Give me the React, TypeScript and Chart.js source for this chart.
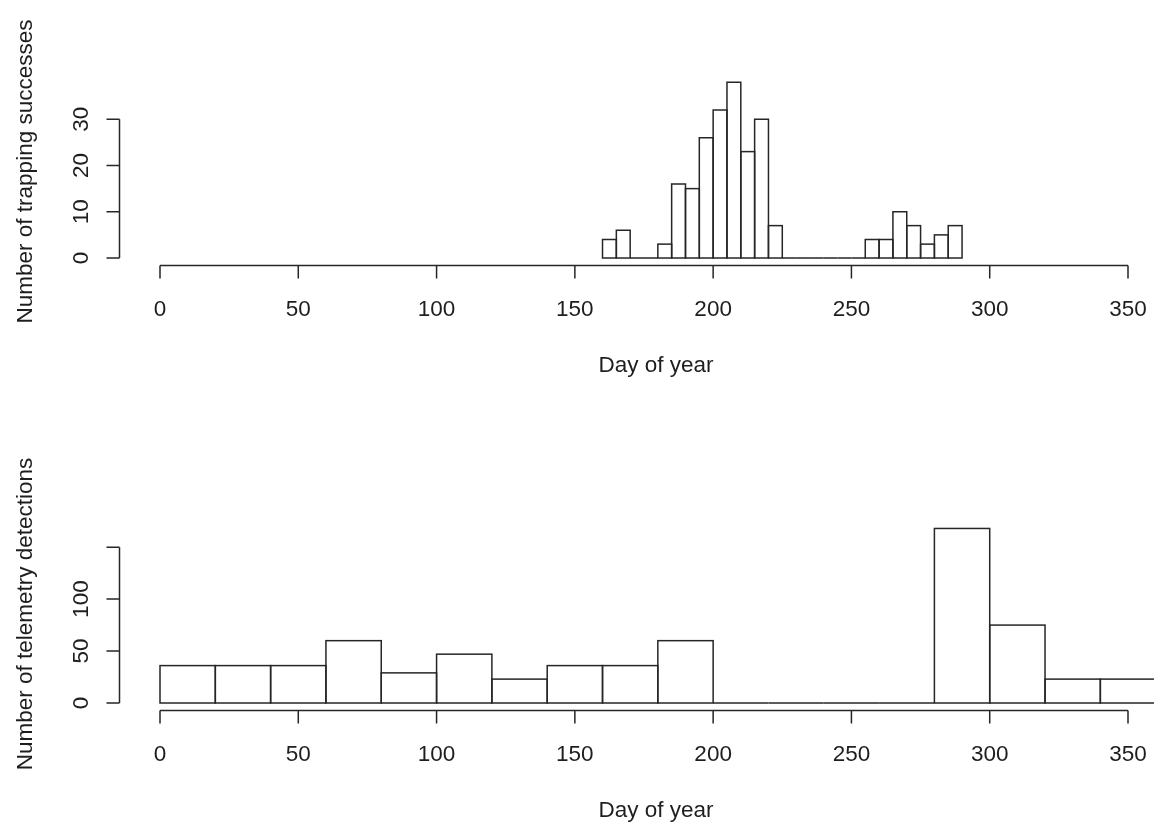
import React, { useEffect, useRef } from "react";
import { Chart, registerables } from "chart.js";

Chart.register(...registerables);

// ---- Data ----
const trapBinStarts = [160, 165, 170, 175, 180, 185, 190, 195, 200, 205, 210, 215, 220, 225, 230, 235, 240, 245, 250, 255, 260, 265, 270, 275, 280, 285];
const trapCounts = [4, 6, 0, 0, 3, 16, 15, 26, 32, 38, 23, 30, 7, 0, 0, 0, 0, 0, 0, 4, 4, 10, 7, 3, 5, 7];
const trapBinWidth = 5;
const trapYTicks = [0, 10, 20, 30];
const trapYLabels = ["0", "10", "20", "30"];

const teleBinStarts = [0, 20, 40, 60, 80, 100, 120, 140, 160, 180, 200, 220, 240, 260, 280, 300, 320, 340];
const teleCounts = [36, 36, 36, 60, 29, 47, 23, 36, 36, 60, 0, 0, 0, 0, 168, 75, 23, 23];
const teleBinWidth = 20;
const teleYTicks = [0, 50, 100, 150];
const teleYLabels = ["0", "50", "100", ""];

const xTicks = [0, 50, 100, 150, 200, 250, 300, 350];
const xLabels = ["0", "50", "100", "150", "200", "250", "300", "350"];

const xTitle = "Day of year";
const trapYTitle = "Number of trapping successes";
const teleYTitle = "Number of telemetry detections";

// ---- Style ----
const LINE = "#262626";
const TEXT = "#1e1e1e";
const FONT = "22.5px 'Liberation Sans', Arial, sans-serif";

type PanelCfg = {
  yTicks: number[];
  yLabels: string[];
  yTitle: string;
  yTitleCenter: number;
};

const rStylePlugin = {
  id: "rStyle",
  afterDatasetsDraw(chart: any, _args: any, opts: PanelCfg) {
    const ctx = chart.ctx as CanvasRenderingContext2D;
    const xs = chart.scales.x;
    const ys = chart.scales.y;
    ctx.save();
    ctx.strokeStyle = LINE;
    ctx.lineWidth = 1.5;

    // histogram outlines
    const meta = chart.getDatasetMeta(0);
    meta.data.forEach((el: any) => {
      const p = el.getProps(["x", "y", "base", "width"], true);
      ctx.strokeRect(p.x - p.width / 2, p.y, p.width, p.base - p.y);
    });

    const tickLen = 13;
    // x axis
    const axY = ys.getPixelForValue(0) + 7.5;
    const x0 = xs.getPixelForValue(xTicks[0]);
    const x1 = xs.getPixelForValue(xTicks[xTicks.length - 1]);
    ctx.beginPath();
    ctx.moveTo(x0, axY);
    ctx.lineTo(x1, axY);
    xTicks.forEach((t) => {
      const px = xs.getPixelForValue(t);
      ctx.moveTo(px, axY);
      ctx.lineTo(px, axY + tickLen);
    });
    ctx.stroke();

    // y axis
    const axX = xs.getPixelForValue(0) - 40.5;
    const yt = opts.yTicks;
    ctx.beginPath();
    ctx.moveTo(axX, ys.getPixelForValue(yt[0]));
    ctx.lineTo(axX, ys.getPixelForValue(yt[yt.length - 1]));
    yt.forEach((t) => {
      const py = ys.getPixelForValue(t);
      ctx.moveTo(axX, py);
      ctx.lineTo(axX - tickLen, py);
    });
    ctx.stroke();

    // labels
    ctx.fillStyle = TEXT;
    ctx.font = FONT;
    ctx.textAlign = "center";
    ctx.textBaseline = "alphabetic";
    xTicks.forEach((t, i) => {
      ctx.fillText(xLabels[i], xs.getPixelForValue(t), axY + 50);
    });
    ctx.fillText(xTitle, 656, axY + 106.5);

    yt.forEach((t, i) => {
      if (!opts.yLabels[i]) return;
      const py = ys.getPixelForValue(t);
      ctx.save();
      ctx.translate(87.5, py);
      ctx.rotate(-Math.PI / 2);
      ctx.fillText(opts.yLabels[i], 0, 0);
      ctx.restore();
    });

    ctx.save();
    ctx.translate(32, opts.yTitleCenter);
    ctx.rotate(-Math.PI / 2);
    ctx.fillText(opts.yTitle, 0, 0);
    ctx.restore();

    ctx.restore();
  },
};

function Panel(props: {
  height: number;
  starts: number[];
  counts: number[];
  binWidth: number;
  yMax: number;
  padTop: number;
  padBottom: number;
  cfg: PanelCfg;
}) {
  const ref = useRef<HTMLCanvasElement>(null);
  useEffect(() => {
    if (!ref.current) return;
    const data = props.starts.map((s, i) => ({ x: s + props.binWidth / 2, y: props.counts[i] }));
    const chart = new Chart(ref.current, {
      type: "bar",
      data: {
        datasets: [
          {
            data: data as any,
            backgroundColor: "#ffffff",
            borderWidth: 0,
            barPercentage: 1,
            categoryPercentage: 1,
            clip: false as any,
          } as any,
        ],
      },
      options: {
        responsive: false,
        animation: false,
        events: [],
        layout: {
          padding: { left: 160, right: 26, top: props.padTop, bottom: props.padBottom },
        },
        scales: {
          x: { type: "linear", min: 0, max: 350, offset: false, display: false },
          y: { type: "linear", min: 0, max: props.yMax, display: false },
        },
        plugins: {
          legend: { display: false },
          tooltip: { enabled: false },
          rStyle: props.cfg as any,
        } as any,
      },
      plugins: [rStylePlugin as any],
    });
    return () => chart.destroy();
  }, []);
  return <canvas ref={ref} width={1154} height={props.height} style={{ display: "block" }} />;
}

export default function App() {
  return (
    <div style={{ position: "absolute", left: 0, top: 0, width: 1154, height: 823, background: "#fff" }}>
      <Panel
        height={411}
        starts={trapBinStarts}
        counts={trapCounts}
        binWidth={trapBinWidth}
        yMax={40}
        padTop={73}
        padBottom={153}
        cfg={{ yTicks: trapYTicks, yLabels: trapYLabels, yTitle: trapYTitle, yTitleCenter: 171.5 }}
      />
      <Panel
        height={412}
        starts={teleBinStarts}
        counts={teleCounts}
        binWidth={teleBinWidth}
        yMax={180}
        padTop={105}
        padBottom={120}
        cfg={{ yTicks: teleYTicks, yLabels: teleYLabels, yTitle: teleYTitle, yTitleCenter: 203 }}
      />
    </div>
  );
}
